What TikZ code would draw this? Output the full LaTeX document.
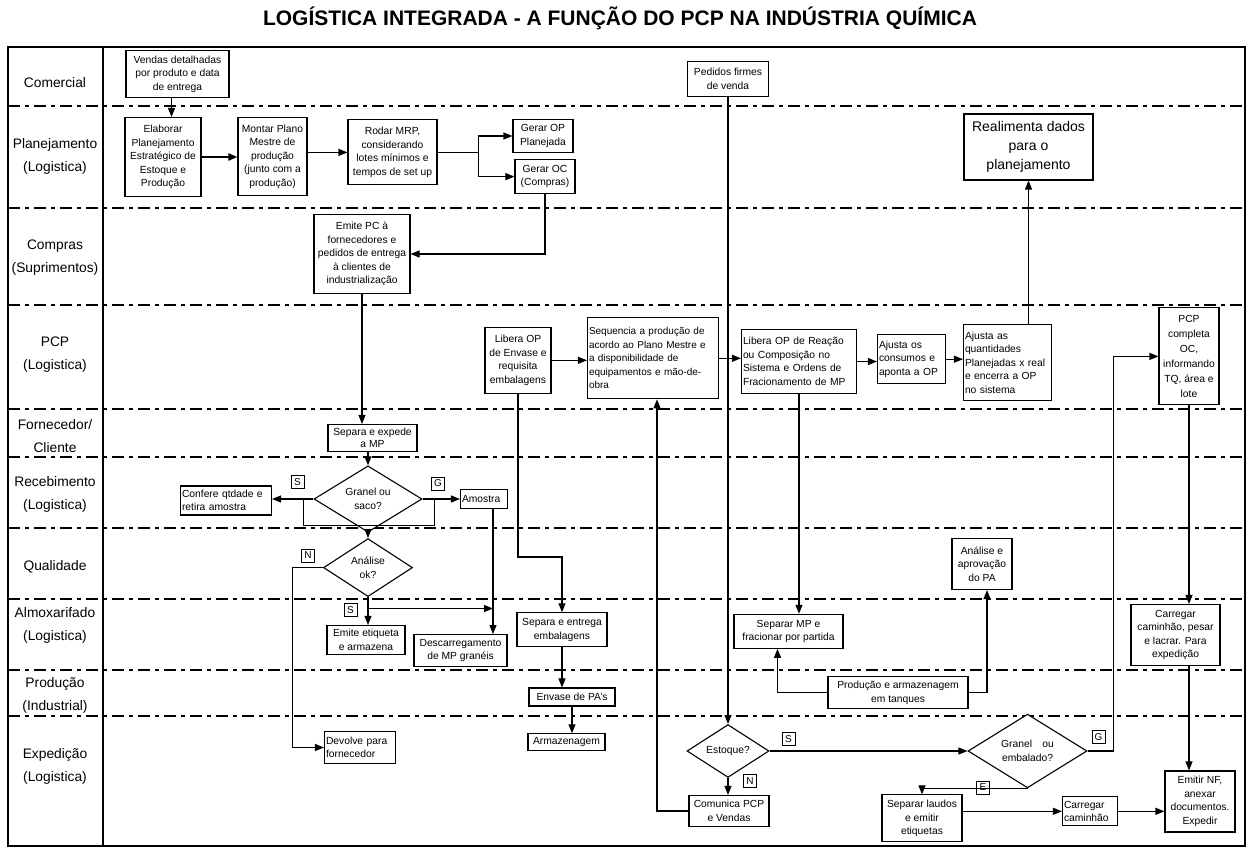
\documentclass[tikz,border=0pt]{standalone}
\usepackage{fontspec}
\setmainfont{Liberation Sans}
\usetikzlibrary{positioning, arrows.meta, shapes.geometric}

\begin{document}
\begin{tikzpicture}[
  x=1pt, y=-1pt,
  proc/.style={draw, fill=white, line width=1.1pt, align=center, inner sep=1.5pt, font=\fontsize{10.3}{13.5}\selectfont},
  procl/.style={proc, align=left},
  decision/.style={draw, fill=white, diamond, line width=1.1pt, align=center, inner sep=0pt, font=\fontsize{10.3}{13.5}\selectfont},
  tag/.style={draw, fill=white, line width=0.9pt, minimum size=13pt, inner sep=0pt, font=\fontsize{10}{12}\selectfont},
  lanelabel/.style={align=center, font=\fontsize{13.8}{23}\selectfont},
  lane/.style={line width=1.8pt, dash pattern=on 12pt off 5pt on 4pt off 5pt},
  arr/.style={line width=1.1pt, -{Triangle[length=9pt,width=7pt]}},
  flow/.style={line width=1.1pt}
]
  \useasboundingbox (0,0) rectangle (1251,852);

  % Title
  \node[font=\fontsize{21}{24}\selectfont\bfseries] (title) at (620,18)
    {LOGÍSTICA INTEGRADA - A FUNÇÃO DO PCP NA INDÚSTRIA QUÍMICA};

  % Lanes
  \foreach \yy in {106,208,305,409,457,528,599,670,716}
    \draw[lane] (8,\yy) -- (1245,\yy);
  \draw[line width=2.6pt] (8,47) rectangle (1245,846);
  \draw[line width=1.6pt] (103,47) -- (103,846);

  \foreach \yy/\txt [count=\i] in {83/Comercial, 156.5/{Planejamento\\(Logistica)},
      258/{Compras\\(Suprimentos)}, 354.5/{PCP\\(Logistica)}, 436.5/{Fornecedor/\\Cliente},
      494/{Recebimento\\(Logistica)}, 567/Qualidade, 625/{Almoxarifado\\(Logistica)},
      695/{Produção\\(Industrial)}, 766/{Expedição\\(Logistica)}}
    \node[lanelabel] (lane\i) at (55,\yy) {\txt};

  % Comercial / Planejamento
  \node[proc, minimum width=103pt, minimum height=47pt] (vendas) at (177.5,74) {Vendas detalhadas\\por produto e data\\de entrega};
  \node[proc, minimum width=76pt, minimum height=79pt] (elaborar) at (163,157) {Elaborar\\Planejamento\\Estratégico de\\Estoque e\\Produção};
  \node[proc, minimum width=69pt, minimum height=78pt] (montar) at (272.5,156.5) {Montar Plano\\Mestre de\\produção\\(junto com a\\produção)};
  \node[proc, minimum width=89pt, minimum height=65pt] (rodar) at (392.5,152.4) {Rodar MRP,\\considerando\\lotes mínimos e\\tempos de set up};
  \node[proc, minimum width=60pt, minimum height=33pt] (gerarOP) at (543,136) {Gerar OP\\Planejada};
  \node[proc, minimum width=60pt, minimum height=34pt] (gerarOC) at (545,176.6) {Gerar OC\\(Compras)};
  \node[proc, minimum width=81pt, minimum height=35pt] (pedidos) at (728,79) {Pedidos firmes\\de venda};
  \node[proc, minimum width=129pt, minimum height=66pt, font=\fontsize{14}{19}\selectfont] (realimenta) at (1028.5,147) {Realimenta dados\\para o\\planejamento};

  % Compras
  \node[proc, minimum width=96pt, minimum height=79pt] (emite) at (362,254) {Emite PC à\\fornecedores e\\pedidos de entrega\\à clientes de\\industrialização};

  % PCP
  \node[proc, minimum width=66pt, minimum height=66pt] (liberaEnv) at (518,360.3) {Libera OP\\de Envase e\\requisita\\embalagens};
  \node[procl, text width=128pt, minimum height=81pt, font=\fontsize{10}{13.5}\selectfont] (sequencia) at (653,358.3) {Sequencia a produção de\\acordo ao Plano Mestre e\\a disponibilidade de\\equipamentos e mão-de-\\obra};
  \node[procl, text width=112pt, minimum height=64pt] (liberaReac) at (799,361.5) {Libera OP de Reação\\ou Composição no\\Sistema e Ordens de\\Fracionamento de MP};
  \node[procl, text width=65pt, minimum height=49pt] (ajustaCons) at (911.5,359.2) {Ajusta os\\consumos e\\aponta a OP};
  \node[procl, text width=85pt, minimum height=76pt] (ajustaQt) at (1007.5,362.8) {Ajusta as\\quantidades\\Planejadas x real\\e encerra a OP\\no sistema};
  \node[proc, minimum width=60pt, minimum height=97pt, font=\fontsize{10.3}{15}\selectfont] (pcpoc) at (1189,356.4) {PCP\\completa\\OC,\\informando\\TQ, área e\\lote};

  % Fornecedor / Recebimento / Qualidade
  \node[proc, minimum width=89pt, minimum height=27pt, font=\fontsize{10.3}{12}\selectfont] (separa) at (372.5,438) {Separa e expede\\a MP};
  \node[decision, minimum width=108pt, minimum height=55pt] (granel) at (368,499) {Granel ou\\saco?};
  \node[procl, text width=88pt, minimum height=29pt] (confere) at (226,500.5) {Confere qtdade e\\retira amostra};
  \node[procl, text width=44pt, minimum height=19pt] (amostra) at (484,499.4) {Amostra};
  \node[decision, minimum width=89pt, minimum height=58pt] (analise) at (368,567.6) {Análise\\ok?};
  \node[proc, minimum width=60pt, minimum height=51pt] (analisePA) at (982,564) {Análise e\\aprovação\\do PA};

  % Almoxarifado / Producao
  \node[proc, minimum width=78pt, minimum height=29pt] (emiteetq) at (366,640) {Emite etiqueta\\e armazena};
  \node[proc, minimum width=93pt, minimum height=32pt] (descarga) at (460.5,650.6) {Descarregamento\\de MP granéis};
  \node[proc, minimum width=90pt, minimum height=34pt] (sepemb) at (562,629.8) {Separa e entrega\\embalagens};
  \node[proc, minimum width=109pt, minimum height=34pt] (sepmp) at (788.5,631.3) {Separar MP e\\fracionar por partida};
  \node[proc, minimum width=89pt, minimum height=61pt] (carregar) at (1175.5,635) {Carregar\\caminhão, pesar\\e lacrar. Para\\expedição};
  \node[proc, minimum width=86pt, minimum height=18pt] (envase) at (572,697) {Envase de PA’s};
  \node[proc, minimum width=140pt, minimum height=32pt] (tanques) at (898,692.6) {Produção e armazenagem\\em tanques};

  % Expedicao
  \node[procl, text width=68pt, minimum height=32pt] (devolve) at (360,747.5) {Devolve para\\fornecedor};
  \node[proc, minimum width=77pt, minimum height=17pt] (armaz) at (566.5,742.3) {Armazenagem};
  \node[decision, minimum width=82pt, minimum height=38pt] (estoque) at (728,751) {Estoque?};
  \node[proc, minimum width=80pt, minimum height=31pt] (comunica) at (729,811) {Comunica PCP\\e Vendas};
  \node[decision, minimum width=119pt, minimum height=54pt] (granel2) at (1027.5,751) {Granel\quad ou\\embalado?};
  \node[proc, minimum width=80pt, minimum height=47pt] (laudos) at (922,818.4) {Separar laudos\\e emitir\\etiquetas};
  \node[procl, text width=52pt, minimum height=29pt] (carregcam) at (1090,811.3) {Carregar\\caminhão};
  \node[proc, minimum width=70pt, minimum height=61pt] (emitirnf) at (1200,801.5) {Emitir NF,\\anexar\\documentos.\\Expedir};

  % Tags
  \node[tag] (tagS1) at (297.5,482) {S};
  \node[tag] (tagG1) at (438,483.5) {G};
  \node[tag] (tagN1) at (308,555.5) {N};
  \node[tag] (tagS2) at (350.5,610.4) {S};
  \node[tag] (tagS3) at (788.5,739) {S};
  \node[tag] (tagN2) at (750,781) {N};
  \node[tag] (tagG2) at (1098.5,737) {G};
  \node[tag] (tagE) at (983,787.5) {E};

  % Connectors: planejamento
  \draw[arr] ([xshift=-6pt]vendas.south) -- ([xshift=-6pt]vendas.south |- elaborar.north);
  \draw[arr, line width=2pt] (elaborar.east) -- (elaborar.east -| montar.west);
  \draw[arr] (rodar.west -| montar.east) -- (rodar.west);
  \draw[flow] (rodar.east) -- ++(41,0) coordinate (fork);
  \draw[arr] (fork) |- (gerarOP.west);
  \draw[arr] (fork) |- (gerarOC.west);
  \draw[arr] (gerarOC.south) |- (emite.east);
  \draw[arr] (emite.south) -- (emite.south |- separa.north);

  % Connectors: recebimento
  \draw[arr] (granel.north |- separa.south) -- (granel.north);
  \draw[arr] (granel.west) -- (granel.west -| confere.east);
  \draw[arr] (granel.east) -- (granel.east -| amostra.west);
  \draw[flow] ([xshift=-10pt]granel.west) -- ++(0,26.6) -| ([xshift=12pt]granel.east);
  \draw[arr] (granel.south) -- (analise.north);
  \draw[arr] (analise.west) -- ++(-30.5,0) |- (devolve.west);
  \draw[arr] (analise.south) -- (analise.south |- emiteetq.north);
  \coordinate (amx) at ([xshift=9pt]amostra.south);
  \draw[arr] (amx) -- (amx |- descarga.north);
  \draw[arr] (analise.south |- 0,608.5) -- (amx |- 0,608.5);

  % Connectors: PCP
  \draw[arr] (liberaEnv.east) -- (liberaEnv.east -| sequencia.west);
  \draw[arr] (sequencia.east) -- (sequencia.east -| liberaReac.west);
  \draw[arr] (liberaReac.east) -- (liberaReac.east -| ajustaCons.west);
  \draw[arr] (ajustaCons.east) -- (ajustaCons.east -| ajustaQt.west);
  \draw[arr] (realimenta.south |- ajustaQt.north) -- (realimenta.south);
  \draw[arr] (liberaEnv.south) -- (liberaEnv.south |- 0,557) -| (sepemb.north);
  \draw[arr] (sepemb.south) -- (sepemb.south |- envase.north);
  \draw[arr] (envase.south) -- (envase.south |- armaz.north);
  \draw[arr] (liberaReac.south) -- (liberaReac.south |- sepmp.north);
  \draw[arr] (tanques.west) -| ([xshift=-11pt]sepmp.south);
  \draw[arr] (tanques.east) -| ([xshift=5pt]analisePA.south);

  % Connectors: expedicao
  \draw[arr] (pedidos.south) -- (pedidos.south |- estoque.north);
  \draw[arr] (estoque.south) -- (estoque.south |- comunica.north);
  \draw[arr] (comunica.west) -| ([xshift=4pt]sequencia.south);
  \draw[arr] (estoque.east) -- (granel2.west);
  \draw[arr] (granel2.south) -| (laudos.north);
  \draw[arr] (granel2.east) -- ++(26,0) |- (pcpoc.west);
  \draw[arr] (carregcam.west -| laudos.east) -- (carregcam.west);
  \draw[arr] (carregcam.east) -- (carregcam.east -| emitirnf.west);
  \draw[arr] (pcpoc.south) -- (pcpoc.south |- carregar.north);
  \draw[arr] (carregar.south -| pcpoc.south) -- (pcpoc.south |- emitirnf.north);
\end{tikzpicture}
\end{document}
